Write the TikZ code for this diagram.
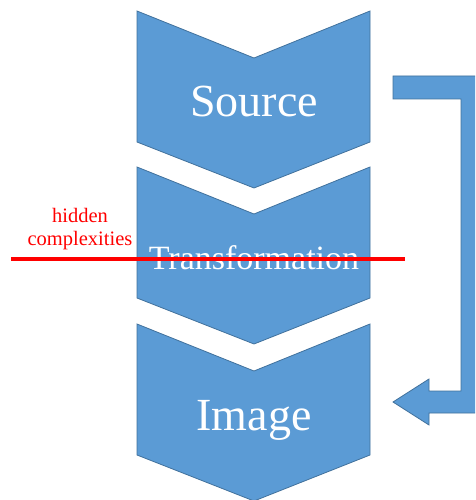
\documentclass[tikz,border=0pt]{standalone}
\usepackage{fontspec}
\setmainfont{Liberation Serif}
\definecolor{chevfill}{HTML}{5B9BD5}
\definecolor{chevline}{HTML}{41719C}
\tikzset{
  chev/.style={fill=chevfill, draw=chevline, line width=0.8pt, line join=miter},
  chevtext/.style={text=white, anchor=base},
}
\begin{document}
\begin{tikzpicture}[x=1pt, y=-1pt]
  \useasboundingbox (0,0) rectangle (475,500);
  \clip (0,0) rectangle (475,500);
  % 三个箭形块
  \foreach \y in {11, 167, 324} {
    \draw[chev] (137,\y) -- (254,\y+47) -- (370,\y) -- (370,\y+131)
      -- (254,\y+177) -- (137,\y+131) -- cycle;
  }

  % 文字
  \node[chevtext, font=\fontsize{46}{48}\selectfont] (src) at (254,117) {Source};
  \node[chevtext, font=\fontsize{34}{36}\selectfont] (trf) at (254,269) {Transformation};
  \node[chevtext, font=\fontsize{46}{48}\selectfont] (img) at (254,430) {Image};

  % 回环箭头
  \draw[chev] (393,76) -- (484,76) -- (484,413) -- (429,413) -- (429,425)
    -- (393,402) -- (429,379) -- (429,391) -- (461,391) -- (461,99)
    -- (393,99) -- cycle;

  % 红线
  \node[text=red, align=center, font=\fontsize{20.5}{23}\selectfont, anchor=base]
    (hidden) at (80,245) {hidden\\complexities};
  \coordinate (cutL) at (11,259);
  \coordinate (cutR) at (405,259);
  \draw[red, line width=4pt] (cutL) -- (cutR);
\end{tikzpicture}
\end{document}
